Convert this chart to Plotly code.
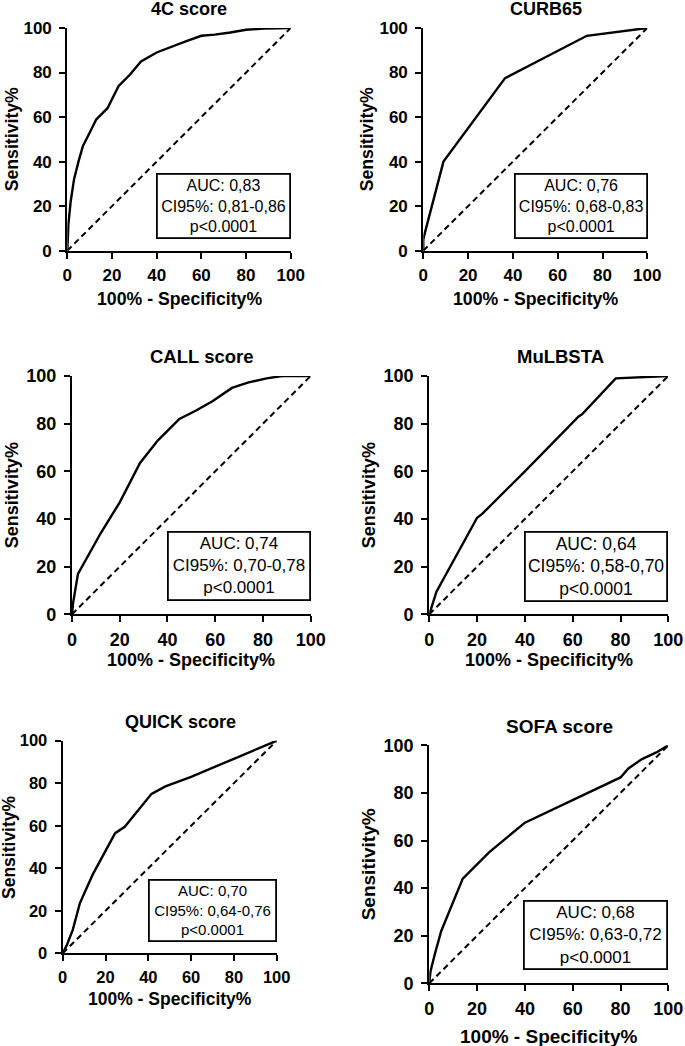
import plotly.graph_objects as go

W, H = 685, 1046

titles = ["4C score", "CURB65", "CALL score", "MuLBSTA", "QUICK score", "SOFA score"]

fpr_4c = [0, 0.5, 1.5, 3, 5, 7, 10, 13, 15, 18, 20, 23, 28, 33, 40, 45, 53, 60, 66, 73, 80, 88, 97, 100]
tpr_4c = [0, 12, 22, 32, 40, 47, 53, 59, 61, 64, 68, 74, 79, 85, 89, 91, 94, 96.5, 97, 98, 99.2, 99.7, 99.7, 100]

fpr_curb = [0, 0, 0.7, 9, 36.5, 73, 100]
tpr_curb = [0, 5, 8, 40, 77.5, 96.5, 100]

fpr_call = [0, 0.5, 2.5, 12, 20, 28.5, 36, 45, 52, 59, 67, 74, 81.5, 88, 100]
tpr_call = [0, 5, 17, 34, 47, 63.5, 73, 82, 85.5, 89.5, 95, 97.3, 99, 100, 100]

fpr_mul = [0, 3, 20, 22, 35, 40, 62.5, 64, 78, 100]
tpr_mul = [0, 9.5, 40.5, 42, 55, 60, 83, 84, 99, 100]

fpr_quick = [0, 2, 4.7, 8, 14, 20, 24.5, 29, 35, 41.5, 48, 60, 80, 100]
tpr_quick = [0, 4, 11, 23.5, 37, 48, 56.5, 59.5, 67, 75, 78.5, 83, 91.5, 100]

fpr_sofa = [0, 0.5, 2.4, 5, 14, 25, 40, 60, 80, 83.3, 89, 95, 100]
tpr_sofa = [0, 5, 12.6, 22, 44, 55, 67.5, 77, 86.5, 90.3, 94.2, 97, 100]

auc_text = ["AUC: 0,83", "AUC: 0,76", "AUC: 0,74", "AUC: 0,64", "AUC: 0,70", "AUC: 0,68"]
ci_text = ["CI95%: 0,81-0,86", "CI95%: 0,68-0,83", "CI95%: 0,70-0,78",
           "CI95%: 0,58-0,70", "CI95%: 0,64-0,76", "CI95%: 0,63-0,72"]
p_text = ["p<0.0001"] * 6

ref_x = [0, 100]
ref_y = [0, 100]
tick_vals = [0, 20, 40, 60, 80, 100]

curves = [(fpr_4c, tpr_4c), (fpr_curb, tpr_curb), (fpr_call, tpr_call),
          (fpr_mul, tpr_mul), (fpr_quick, tpr_quick), (fpr_sofa, tpr_sofa)]

# layout in pixels: plot area (x0, x1, y0top, y1bottom)
areas = [(67.3, 290.7, 28, 250.7), (423.3, 647.3, 28, 250.7),
         (72, 310.7, 376, 614.3), (429.3, 668.3, 376, 614.3),
         (62.7, 276.7, 740.7, 953.3), (429.3, 668.3, 745.3, 983.3)]
title_pos = [(189, 9), (546, 9), (202, 356), (560, 356), (180, 722), (559, 726)]
xtitle_y = [299, 299, 660, 660, 999, 1036]
ytitle_x = [12, 367, 12, 369, 9, 368]
box_px = [(155.7, 290.7, 173, 239.3), (514, 648.3, 173, 239.3),
          (166.7, 310.7, 531, 600.7), (524, 668.3, 531, 601.7),
          (147.7, 276.7, 879, 941.7), (523.3, 668.3, 900, 970)]
box_font = [16, 16, 17, 17.5, 15, 17]
tick_font = [17, 17, 18, 18, 16.5, 18]
title_font = [18, 18, 18.5, 18.5, 18, 19]
axtitle_font = [17.7, 17.7, 18, 18, 17.5, 19]

FONT = "Liberation Sans, Arial, sans-serif"

def px(x):
    return x / W

def py(y):
    return 1 - y / H

fig = go.Figure()
annotations = []
layout_axes = {}
for i in range(6):
    xa = "x" if i == 0 else f"x{i+1}"
    ya = "y" if i == 0 else f"y{i+1}"
    fx, fy = curves[i]
    fig.add_trace(go.Scatter(x=ref_x, y=ref_y, mode="lines", xaxis=xa, yaxis=ya,
                             line=dict(color="black", width=2, dash="6px,4px"),
                             showlegend=False, hoverinfo="skip"))
    fig.add_trace(go.Scatter(x=fx, y=fy, mode="lines", xaxis=xa, yaxis=ya,
                             line=dict(color="black", width=2.4),
                             showlegend=False))
    x0, x1, y0, y1 = areas[i]
    ax_common = dict(range=[0, 100], tickvals=tick_vals, showline=True, linecolor="black",
                     linewidth=2.2, ticks="outside", ticklen=6, tickwidth=2, tickcolor="black",
                     showgrid=False, zeroline=False, fixedrange=True, automargin=False,
                     tickfont=dict(family=FONT, size=tick_font[i], color="black", weight="bold"))
    kx = "xaxis" if i == 0 else f"xaxis{i+1}"
    ky = "yaxis" if i == 0 else f"yaxis{i+1}"
    layout_axes[kx] = dict(ax_common, domain=[px(x0), px(x1)], anchor=ya, ticklabelstandoff=2)
    layout_axes[ky] = dict(ax_common, domain=[py(y1), py(y0)], anchor=xa, ticklabelstandoff=4)

    tx, ty = title_pos[i]
    annotations.append(dict(text=titles[i], x=px(tx), y=py(ty), xref="paper", yref="paper",
                            showarrow=False, xanchor="center", yanchor="middle",
                            font=dict(family=FONT, size=title_font[i], color="black", weight="bold")))
    annotations.append(dict(text="100% - Specificity%", x=px((x0 + x1) / 2), y=py(xtitle_y[i]),
                            xref="paper", yref="paper", showarrow=False, xanchor="center",
                            yanchor="middle",
                            font=dict(family=FONT, size=axtitle_font[i], color="black", weight="bold")))
    annotations.append(dict(text="Sensitivity%", x=px(ytitle_x[i]), y=py((y0 + y1) / 2),
                            xref="paper", yref="paper", showarrow=False, xanchor="center",
                            yanchor="middle", textangle=-90,
                            font=dict(family=FONT, size=axtitle_font[i], color="black", weight="bold")))
    bx0, bx1, by0, by1 = box_px[i]
    bw = 1.8
    annotations.append(dict(text="<br>".join([auc_text[i], ci_text[i], p_text[i]]),
                            x=px((bx0 + bx1) / 2), y=py((by0 + by1) / 2), xref="paper", yref="paper",
                            showarrow=False, xanchor="center", yanchor="middle", align="center",
                            width=bx1 - bx0 - 2 * bw, height=by1 - by0 - 2 * bw,
                            bordercolor="black", borderwidth=bw, borderpad=0, bgcolor="white",
                            font=dict(family=FONT, size=box_font[i], color="black")))

fig.update_layout(template="none", width=W, height=H,
                  margin=dict(l=0, r=0, t=0, b=0, autoexpand=False),
                  paper_bgcolor="white", plot_bgcolor="white",
                  annotations=annotations, **layout_axes)

fig.write_html("out.html", config={"displayModeBar": False},
               post_script="document.body.style.margin='0';document.body.style.overflow='hidden';")
